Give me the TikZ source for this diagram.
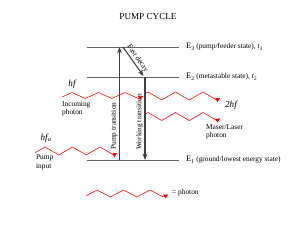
\documentclass[tikz,border=0pt]{standalone}
\usepackage{fontspec}
\setmainfont{Liberation Serif}
\usetikzlibrary{arrows.meta}

\begin{document}
\begin{tikzpicture}[x=0.05cm, y=-0.05cm,
    level/.style={draw=black!60, line width=0.8pt},
    trans/.style={draw=black!75, line width=1.5pt, -{Stealth[length=9pt,width=7pt]}},
    photon/.style={red, line width=0.8pt, -{Triangle[length=6pt,width=6pt]}},
    lbl/.style={font=\fontsize{10.5}{11.5}\selectfont, align=left, inner sep=0pt},
    hfl/.style={font=\fontsize{13}{14}\selectfont\itshape, inner sep=0pt}]
  \useasboundingbox (0,0) rectangle (300,225);
  % title
  \node[font=\fontsize{13}{14}\selectfont] (title) at (148,17) {PUMP CYCLE};

  % energy levels
  \coordinate (E3a) at (87,47);  \coordinate (E3b) at (179,47);
  \coordinate (E2a) at (87,77);  \coordinate (E2b) at (179,77);
  \coordinate (E1a) at (87,160); \coordinate (E1b) at (179,160);
  \draw[level] (E3a) -- (E3b);
  \draw[level] (E2a) -- (E2b);
  \draw[level] (E1a) -- (E1b);
  \node[lbl, anchor=west] (E3lbl) at ([xshift=0.35cm]E3b)
    {{\fontsize{12}{13}\selectfont E\textsubscript{3}} (pump/feeder state), \textit{t}\textsubscript{3}};
  \node[lbl, anchor=west] (E2lbl) at ([xshift=0.35cm]E2b)
    {{\fontsize{12}{13}\selectfont E\textsubscript{2}} (metastable state), \textit{t}\textsubscript{2}};
  \node[lbl, anchor=west] (E1lbl) at ([xshift=0.35cm]E1b)
    {{\fontsize{12}{13}\selectfont E\textsubscript{1}} (ground/lowest energy state)};

  % transitions
  \coordinate (pumpB) at (119.5,160); \coordinate (pumpT) at (119.5,47);
  \coordinate (fastA) at (123,47);    \coordinate (fastB) at (143.5,76);
  \coordinate (workT) at (145,77);    \coordinate (workB) at (145,160);
  \draw[trans] (pumpB) -- (pumpT)
    node[lbl, pos=0.3, rotate=90, anchor=south, inner sep=2pt] (pumplbl) {Pump transition};
  \draw[trans] (fastA) -- (fastB)
    node[lbl, midway, rotate=-54.7, anchor=south, inner sep=2pt] (fastlbl) {Fast decay};
  \draw[trans] (workT) -- (workB)
    node[lbl, pos=0.54, rotate=90, anchor=south, inner sep=2pt] (worklbl) {Working transition};

  % photons (triangle waves)
  \draw[photon] plot[domain=62:143, samples=240] ({\x},{95.5 - 3*(1-4*abs(Mod((\x-65.4)/26.5+0.25,1)-0.5))});
  \draw[photon] plot[domain=145:220, samples=240] ({\x},{96 - 4*(1-4*abs(Mod((\x-141.1)/27.5+0.25,1)-0.5))});
  \draw[photon] plot[domain=145:220, samples=240] ({\x},{116.5 - 4*(1-4*abs(Mod((\x-141.1)/27.5+0.25,1)-0.5))});
  \draw[photon] plot[domain=35:117, samples=240] ({\x},{151 - 4*(1-4*abs(Mod((\x-38.1)/27.5+0.25,1)-0.5))});
  \node[hfl] (hfin) at (72,84) {hf};
  \node[lbl, anchor=north west] (inlbl) at (62,101) {Incoming\\photon};
  \node[hfl] (hfout) at (231,105.5) {2hf};
  \node[lbl, anchor=north west] (outlbl) at (206,124) {Maser/Laser\\photon};
  \node[hfl] (hfpump) at (46,138) {hf\textsubscript{o}};
  \node[lbl, anchor=north west] (pumplbl2) at (36,155) {Pump\\input};

  % key
  \draw[photon] plot[domain=86:168, samples=240] ({\x},{193.5 - 3.5*(1-4*abs(Mod((\x-90.4)/26.5+0.25,1)-0.5))});
  \node[lbl, anchor=west] (keylbl) at (172,193) {= photon};
\end{tikzpicture}
\end{document}
